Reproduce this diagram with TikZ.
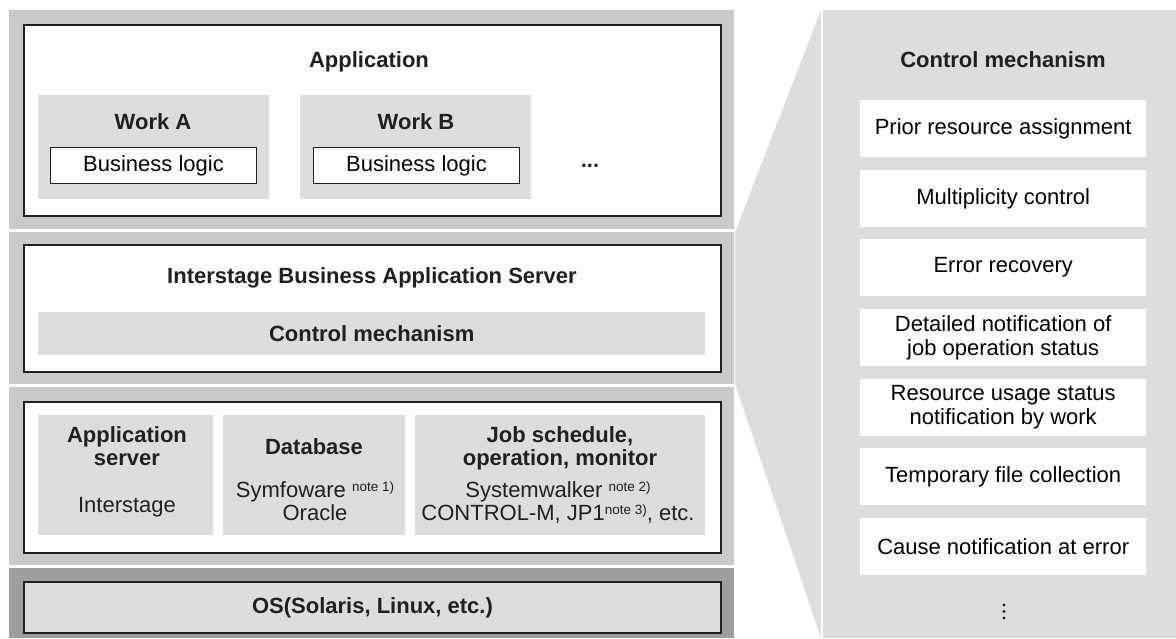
\documentclass[tikz,border=0pt]{standalone}
\usepackage{fontspec}
\setmainfont{Liberation Sans}
\usetikzlibrary{positioning}
\definecolor{BandGray}{HTML}{C8C9CB}
\definecolor{OsGray}{HTML}{9D9EA0}
\definecolor{LightGray}{HTML}{DCDDDF}
\definecolor{InkGray}{HTML}{231F20}
\newcommand{\LabelFont}{\fontsize{22}{22.5}\selectfont}
\newcommand{\PanelFont}{\fontsize{22}{24}\selectfont}
\newcommand{\NoteRef}[1]{\raisebox{6pt}{\fontsize{13.5}{13.5}\selectfont note #1)}}
\tikzstyle{LayerBand}=[rectangle, fill=BandGray, inner sep=0pt, anchor=north west, minimum width=725pt]
\tikzstyle{OsBand}=[LayerBand, fill=OsGray]
\tikzstyle{LayerFrame}=[rectangle, draw=InkGray, line width=2pt, fill=white, inner sep=0pt, anchor=north west, minimum width=697pt]
\tikzstyle{InnerBox}=[rectangle, fill=LightGray, inner sep=0pt, anchor=north west]
\tikzstyle{LogicBox}=[rectangle, draw=InkGray, line width=1pt, fill=white, inner sep=0pt, anchor=north west, minimum width=206pt, minimum height=36pt, font=\LabelFont]
\tikzstyle{FuncBox}=[rectangle, fill=white, inner sep=0pt, anchor=north west, minimum width=286pt, minimum height=57pt, align=center, font=\PanelFont]
\tikzstyle{Label}=[inner sep=0pt, align=center, font=\LabelFont, text=InkGray]
\tikzstyle{Title}=[Label, font=\LabelFont\bfseries]

\begin{document}
\begin{tikzpicture}[x=1pt, y=-1pt]
\useasboundingbox (0,0) rectangle (1176,638);

% layer bands
\node[LayerBand, minimum height=219pt](BandApp) at (9,10) {};
\node[LayerBand, minimum height=152pt](BandServer) at (9,232) {};
\node[LayerBand, minimum height=178pt](BandBase) at (9,387) {};
\node[OsBand, minimum height=70pt](BandOs) at (9,568) {};

% application layer
\node[LayerFrame, minimum height=191pt](AppFrame) at (23,24) {};
\node[Title, anchor=base](AppTitle) at (369,67) {Application};
\node[InnerBox, minimum width=231pt, minimum height=104pt](WorkA) at (38,95) {};
\node[InnerBox, minimum width=231pt, minimum height=104pt](WorkB) at (300,95) {};
\node[Title, anchor=base](WorkATitle) at (153,129) {Work A};
\node[Title, anchor=base](WorkBTitle) at (416,129) {Work B};
\node[LogicBox](LogicA) at (50,147) {Business logic};
\node[LogicBox](LogicB) at (313,147) {Business logic};
\node[Title, anchor=base](MoreWork) at (590,167) {...};

% server layer
\node[LayerFrame, minimum height=127pt](ServerFrame) at (23,244) {};
\node[Title, anchor=base](ServerTitle) at (372,283) {Interstage Business Application Server};
\node[InnerBox, minimum width=667pt, minimum height=43pt, font=\LabelFont\bfseries, text=InkGray](CtrlBar) at (38,312) {Control mechanism};

% middleware layer
\node[LayerFrame, minimum height=151pt](BaseFrame) at (23,401) {};
\node[InnerBox, minimum width=175pt, minimum height=120pt](AppSrv) at (38,415) {};
\node[InnerBox, minimum width=182pt, minimum height=120pt](DbBox) at (223,415) {};
\node[InnerBox, minimum width=290pt, minimum height=120pt](JobBox) at (415,415) {};
\node[Title, anchor=base](AppSrvTitle) at (127,465) {Application\\server};
\node[Label, anchor=base](AppSrvBody) at (127,512) {Interstage};
\node[Title, anchor=base](DbTitle) at (314,454) {Database};
\node[Label, anchor=base](DbBody) at (315,520) {Symfoware \NoteRef{1}\\Oracle};
\node[Title, anchor=base](JobTitle) at (560,465) {Job schedule,\\operation, monitor};
\node[Label, anchor=base](JobBody) at (558,520) {Systemwalker \NoteRef{2}\\CONTROL-M, JP1\NoteRef{3}, etc.};

% os layer
\node[LayerFrame, fill=LightGray, minimum height=51pt, font=\LabelFont\bfseries, text=InkGray](OsFrame) at (23,581) {OS(Solaris, Linux, etc.)};

% zoomed control mechanism
\fill[LightGray] (735,232) -- (821,10) -- (821,638) -- (735,384) -- cycle;
\node[InnerBox, minimum width=353pt, minimum height=628pt](Panel) at (823,10) {};
\node[Title, anchor=base](PanelTitle) at (1003,67) {Control mechanism};
\node[FuncBox](FuncA) at (860,100) {Prior resource assignment};
\node[FuncBox](FuncB) at (860,170) {Multiplicity control};
\node[FuncBox](FuncC) at (860,239) {Error recovery};
\node[FuncBox](FuncD) at (860,309) {Detailed notification of\\job operation status};
\node[FuncBox](FuncE) at (860,379) {Resource usage status\\notification by work};
\node[FuncBox](FuncF) at (860,448) {Temporary file collection};
\node[FuncBox](FuncG) at (860,518) {Cause notification at error};
\fill[InkGray] (1004,605) circle (1.7);
\fill[InkGray] (1004,611.5) circle (1.7);
\fill[InkGray] (1004,618) circle (1.7);
\end{tikzpicture}
\end{document}
